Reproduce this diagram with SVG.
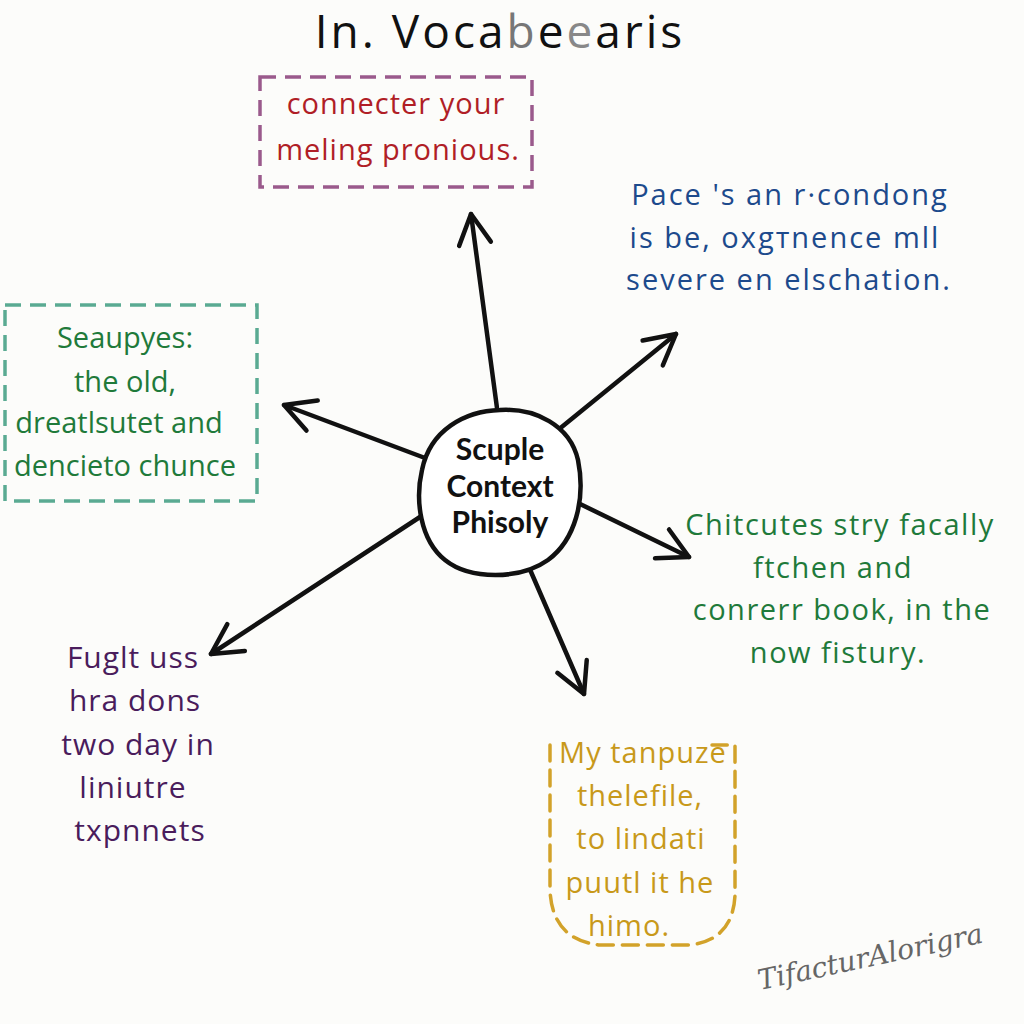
<svg xmlns="http://www.w3.org/2000/svg" width="1024" height="1024" viewBox="0 0 1024 1024">
<defs>
<style>
.hand{font-family:"Open Sans","Liberation Sans",sans-serif;text-anchor:middle;letter-spacing:1px}
.title{font-size:46px;fill:#111;letter-spacing:3px}
.red{font-size:29px;fill:#b01e26}
.blue{font-size:29px;fill:#1d4a8c;letter-spacing:2px}
.green{font-size:29px;fill:#1f7a3a;letter-spacing:1.5px}
.lgreen{font-size:29px;fill:#1f7a3a;letter-spacing:0px}
.purple{font-size:30px;fill:#4a1c5c}
.gold{font-size:29px;fill:#c8991a}
.center{font-family:Lato,"Liberation Sans",sans-serif;font-weight:bold;font-size:30px;fill:#111;text-anchor:middle}
.conn{stroke:#111;stroke-width:4.5;fill:none;stroke-linecap:round;marker-end:url(#arr)}
</style>
<marker id="arr" viewBox="0 0 40 40" refX="36" refY="20" markerWidth="40" markerHeight="40" markerUnits="userSpaceOnUse" orient="auto">
<path d="M6,4 L36,20 L6,36" fill="none" stroke="#111" stroke-width="4.5" stroke-linecap="round" stroke-linejoin="round"/>
</marker>
</defs>
<rect width="1024" height="1024" fill="#fcfcfa"/>

<g id="title">
<text class="hand title" x="500" y="48">In. Voca<tspan fill="#777">b</tspan>e<tspan fill="#888">e</tspan>a<tspan fill="#111">ris</tspan></text>
</g>

<g id="connectors">
<path class="conn" d="M497,408 L471,214"/>
<path class="conn" d="M558,430 L676,334"/>
<path class="conn" d="M425,458 L284,405"/>
<path class="conn" d="M578,503 L689,557"/>
<path class="conn" d="M423,515 L211,654"/>
<path class="conn" d="M528,565 L584,694"/>
</g>

<g id="node-center">
<path d="M500,410 C535,408 570,425 578,460 C586,500 575,540 548,560 C520,580 470,580 445,560 C420,540 415,500 422,470 C430,430 465,411 500,410 Z" fill="#fff" stroke="#111" stroke-width="4.5"/>
<text class="center" x="500" y="460">Scuple</text>
<text class="center" x="500" y="497">Context</text>
<text class="center" x="500" y="533">Phisoly</text>
</g>

<g id="node-top">
<rect x="260" y="77" width="272" height="110" fill="none" stroke="#9a5a8c" stroke-width="3.5" stroke-dasharray="16,9"/>
<text class="hand red" x="396" y="114">connecter your</text>
<text class="hand red" x="398" y="160">meling pronious.</text>
</g>

<g id="node-topright">
<text class="hand blue" x="790" y="205">Pace 's an r·condong</text>
<text class="hand blue" x="785" y="248">is be, oxgтnence mll</text>
<text class="hand blue" x="789" y="290">severe en elschation.</text>
</g>

<g id="node-left">
<rect x="5" y="305" width="252" height="196" fill="none" stroke="#5aaa92" stroke-width="3.5" stroke-dasharray="16,9"/>
<text class="hand lgreen" x="125" y="348">Seaupyes:</text>
<text class="hand lgreen" x="125" y="392">the old,</text>
<text class="hand lgreen" x="119" y="433">dreatlsutet and</text>
<text class="hand lgreen" x="125" y="476">dencieto chunce</text>
</g>

<g id="node-right">
<text class="hand green" x="840" y="535">Chitcutes stry facally</text>
<text class="hand green" x="833" y="578">ftchen and</text>
<text class="hand green" x="842" y="620">conrerr book, in the</text>
<text class="hand green" x="838" y="663">now fistury.</text>
</g>

<g id="node-bottomleft">
<text class="hand purple" x="133" y="668">Fuglt uss</text>
<text class="hand purple" x="135" y="711">hra dons</text>
<text class="hand purple" x="138" y="755">two day in</text>
<text class="hand purple" x="133" y="798">liniutre</text>
<text class="hand purple" x="140" y="841">txpnnets</text>
</g>

<g id="node-bottom">
<path d="M550,745 L550,890 Q552,940 600,945 L690,945 Q733,940 735,895 L735,745 L712,745" fill="none" stroke="#d2a22a" stroke-width="3.5" stroke-dasharray="16,9" stroke-linecap="round"/>
<text class="hand gold" x="643" y="763">My tanpuze</text>
<text class="hand gold" x="640" y="806">thelefile,</text>
<text class="hand gold" x="641" y="849">to lindati</text>
<text class="hand gold" x="640" y="893">puutl it he</text>
<text class="hand gold" x="629" y="936">himo.</text>
</g>

<g id="signature">
<text x="760" y="990" transform="rotate(-12 760 990)" font-family="'DejaVu Serif',serif" font-style="italic" font-size="28" fill="#666">TifacturAlorigra</text>
</g>
</svg>
